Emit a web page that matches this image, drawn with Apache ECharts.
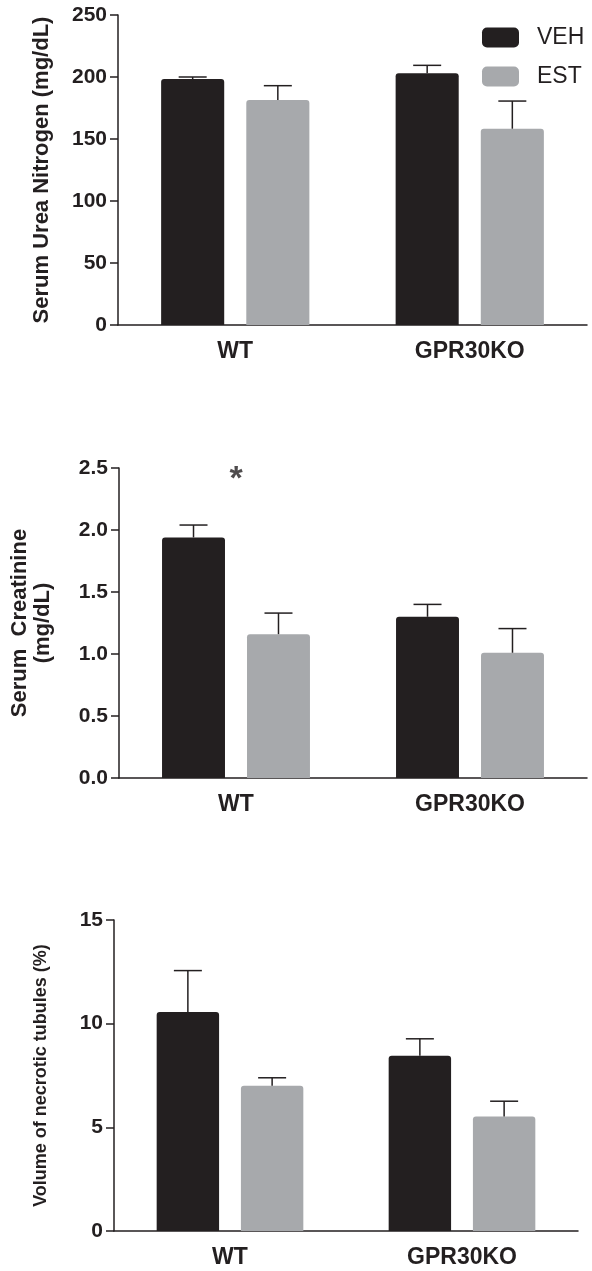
<!DOCTYPE html>
<html><head><meta charset="utf-8">
<script src="https://cdn.jsdelivr.net/npm/echarts@6/dist/echarts.min.js"></script>
<style>html,body{margin:0;padding:0;background:#fff}#c{width:592px;height:1271px}</style>
</head><body><div id="c"></div>
<script>
const categories = ['WT', 'GPR30KO'];
const seriesNames = ['VEH', 'EST'];
// Serum urea nitrogen (mg/dL)
const bunVeh = [198.4, 203.0];
const bunVehErr = [1.6, 6.4];
const bunEst = [181.5, 158.3];
const bunEstErr = [11.5, 22.3];
// Serum creatinine (mg/dL)
const creVeh = [1.94, 1.30];
const creVehErr = [0.10, 0.10];
const creEst = [1.16, 1.01];
const creEstErr = [0.17, 0.195];
// Volume of necrotic tubules (%)
const necVeh = [10.56, 8.45];
const necVehErr = [2.0, 0.82];
const necEst = [7.0, 5.52];
const necEstErr = [0.39, 0.74];
const yTitles = ['Serum Urea Nitrogen (mg/dL)', 'Serum  Creatinine\n(mg/dL)', 'Volume of necrotic tubules (%)'];
const yRanges = [[0, 250, 50], [0, 2.5, 0.5], [0, 15, 5]];
const sigMark = {text: '*', category: 0, value: 2.41};

const FONT = 'Liberation Sans, Arial, sans-serif';
const INK = '#231f20';
const BLACK = '#231f20';
const GRAY = '#a7a9ac';
const BW = 0.269, GAP = 0.35;

const grids = [
  {left: 118, right: 5, top: 15, height: 310},
  {left: 118, right: 5, top: 468, height: 310},
  {left: 114, right: 14, top: 920, height: 311}
];
const datasets = [
  [bunVeh, bunVehErr, bunEst, bunEstErr],
  [creVeh, creVehErr, creEst, creEstErr],
  [necVeh, necVehErr, necEst, necEstErr]
];
const titleSizes = [22, 22, 18];
const nameGaps = [65, 65, 61];

const xAxes = [], yAxes = [], series = [];
grids.forEach((g, k) => {
  xAxes.push({
    type: 'category', gridIndex: k, data: categories,
    axisLine: {lineStyle: {color: INK, width: 1.5}},
    axisTick: {alignWithLabel: true, length: 8, lineStyle: {color: INK, width: 1.5}},
    axisLabel: {fontFamily: FONT, fontWeight: 'bold', fontSize: 23, color: INK, margin: 15}
  });
  const r = yRanges[k];
  yAxes.push({
    type: 'value', gridIndex: k, min: r[0], max: r[1], interval: r[2],
    name: yTitles[k], nameLocation: 'middle', nameGap: nameGaps[k], nameRotate: 90,
    nameTextStyle: {fontFamily: FONT, fontWeight: 'bold', fontSize: titleSizes[k], color: INK, lineHeight: 23},
    axisLine: {show: true, lineStyle: {color: INK, width: 1.5}},
    axisTick: {show: true, length: 8, lineStyle: {color: INK, width: 1.5}},
    splitLine: {show: false},
    axisLabel: {fontFamily: FONT, fontWeight: 'bold', fontSize: 21, color: INK, margin: 11,
      formatter: v => k === 1 ? v.toFixed(1) : String(v)}
  });
  const d = datasets[k];
  [[d[0], d[1], BLACK, -1, 'VEH'], [d[2], d[3], GRAY, 1, 'EST']].forEach(([vals, errs, col, side, nm]) => {
    series.push({
      type: 'bar', name: nm, xAxisIndex: k, yAxisIndex: k, data: vals,
      barWidth: (BW * 100) + '%', barGap: (GAP * 100) + '%',
      itemStyle: {color: col, borderRadius: [3, 3, 0, 0]},
      emphasis: {disabled: true}, z: 2
    });
    series.push({
      type: 'custom', xAxisIndex: k, yAxisIndex: k, z: 3, silent: true,
      data: vals.map((v, i) => [i, v, v + errs[i]]),
      renderItem: (params, api) => {
        const i = api.value(0);
        const lo = api.coord([i, api.value(1)]);
        const hi = api.coord([i, api.value(2)]);
        const cw = api.size([1, 0])[0];
        const x = lo[0] + side * cw * BW * (1 + GAP) / 2;
        const half = 14;
        const st = {stroke: INK, lineWidth: 1.5};
        return {type: 'group', children: [
          {type: 'line', shape: {x1: x, y1: lo[1], x2: x, y2: hi[1]}, style: st},
          {type: 'line', shape: {x1: x - half, y1: hi[1], x2: x + half, y2: hi[1]}, style: st}
        ]};
      }
    });
  });
});
series.push({
  type: 'scatter', xAxisIndex: 1, yAxisIndex: 1, symbolSize: 0, silent: true,
  data: [[sigMark.category, sigMark.value]],
  label: {show: true, formatter: sigMark.text, position: 'inside', fontFamily: FONT, fontWeight: 'bold', fontSize: 34, color: INK}
});

const chart = echarts.init(document.getElementById('c'), null, {renderer: 'canvas'});
chart.setOption({
  animation: false,
  grid: grids,
  xAxis: xAxes,
  yAxis: yAxes,
  legend: {
    data: seriesNames, orient: 'vertical', left: 482, top: 26, padding: 0,
    itemWidth: 37, itemHeight: 20, itemGap: 16, icon: 'roundRect', selectedMode: false,
    textStyle: {fontFamily: FONT, fontSize: 23, color: INK, lineHeight: 20, padding: [0, 0, 0, 13]}
  },
  series: series
});
</script></body></html>
